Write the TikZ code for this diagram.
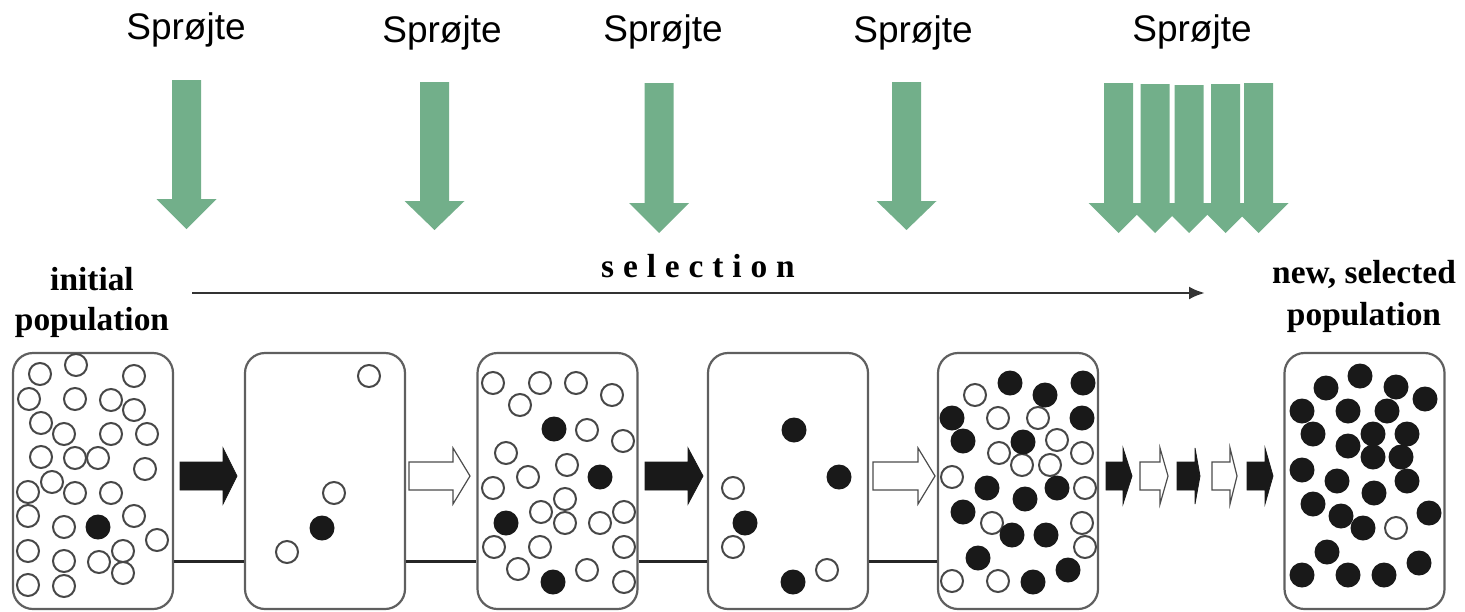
\documentclass[tikz,border=0pt]{standalone}
\usepackage{fontspec}
\setmainfont{Liberation Serif}
\newfontfamily\arialfont{Liberation Sans}
\usetikzlibrary{arrows.meta}
\definecolor{spray}{RGB}{114,175,138}
\definecolor{boxgray}{RGB}{95,95,95}
\definecolor{inkblack}{RGB}{25,25,25}
\newcommand{\lsp}{\kern4.45pt}
\newcommand{\grnarrow}[4]{%
  \fill[spray] ({#1-14.5},#2) -- ({#1+14.5},#2) -- ({#1+14.5},#3) -- ({#1+30},#3)
     -- (#1,#4) -- ({#1-30},#3) -- ({#1-14.5},#3) -- cycle;}
\newcommand{\blkarrow}[4]{%
  \draw[#4] (#1,462) -- (#2,462) -- (#2,448) -- (#3,476) -- (#2,504) -- (#2,490) -- (#1,490) -- cycle;}
\begin{document}
\begin{tikzpicture}[x=0.5pt,y=-0.5pt,
  popbox/.style={draw=boxgray,line width=1.1pt,rounded corners=10pt,
     minimum width=80pt,minimum height=128pt,inner sep=0pt},
  oc/.style={draw=black!72,line width=1pt},
  fc/.style={fill=inkblack},
  link/.style={draw=black!85,line width=1.5pt},
  sprtext/.style={font=\arialfont\fontsize{18.5pt}{20pt}\selectfont,anchor=base,inner sep=0pt},
  poplabel/.style={font=\fontsize{16.7pt}{20pt}\selectfont\bfseries,align=center,anchor=base,inner sep=0pt},
  darrow/.style={fill=inkblack,draw=inkblack,line width=0.4pt},
  warrow/.style={fill=white,draw=black!70,line width=0.6pt}]
\useasboundingbox (0,0) rectangle (1465,611);

% spray labels
\node[sprtext] (s1) at (186,39) {Sprøjte};
\node[sprtext] (s2) at (442,42) {Sprøjte};
\node[sprtext] (s3) at (663,41) {Sprøjte};
\node[sprtext] (s4) at (913,42) {Sprøjte};
\node[sprtext] (s5) at (1192,41) {Sprøjte};

% green spray arrows
\grnarrow{186.5}{80}{199}{229}
\grnarrow{434.5}{82}{201}{230}
\grnarrow{659}{83}{203}{233}
\grnarrow{906.5}{82}{201}{230}
\grnarrow{1118.5}{83}{203}{233}
\grnarrow{1155}{84}{203}{233}
\grnarrow{1189}{85}{203}{233}
\grnarrow{1225.5}{84}{203}{233}
\grnarrow{1258.5}{83}{203}{233}

% labels
\node[poplabel] (lab1) at (92,330) {initial\\population};
\node[poplabel] (lab2) at (1364,325) {new, selected\\[1pt]population};
\node[font=\fontsize{16.7pt}{20pt}\selectfont\bfseries,anchor=base,inner sep=0pt] (sel) at (698,277)
  {s\lsp e\lsp l\lsp e\lsp c\lsp t\lsp i\lsp o\lsp n};
\coordinate (sa) at (192,293);
\coordinate (sb) at (1205,293);
\draw[draw=black!80,line width=1.4pt,-{Latex[length=8pt,width=6.5pt]}] (sa) -- (sb);

% boxes
\node[popbox] (b1) at (93,481) {};
\node[popbox] (b2) at (325,481) {};
\node[popbox] (b3) at (557.5,481) {};
\node[popbox] (b4) at (788,481) {};
\node[popbox] (b5) at (1018,481) {};
\node[popbox] (b6) at (1364.5,481) {};

% connecting lines
\draw[link] ([yshift=-40pt]b1.east) -- ([yshift=-40pt]b2.west);
\draw[link] ([yshift=-40pt]b2.east) -- ([yshift=-40pt]b3.west);
\draw[link] ([yshift=-40pt]b3.east) -- ([yshift=-40pt]b4.west);
\draw[link] ([yshift=-40pt]b4.east) -- ([yshift=-40pt]b5.west);

% block arrows
\blkarrow{180}{223}{237}{darrow}
\blkarrow{409}{453}{470}{warrow}
\blkarrow{645}{688}{703}{darrow}
\blkarrow{873}{918}{935}{warrow}
\blkarrow{1106}{1123}{1132}{darrow}
\blkarrow{1140}{1160}{1168}{warrow}
\blkarrow{1177}{1195}{1200}{darrow}
\blkarrow{1212}{1230}{1237}{warrow}
\blkarrow{1247}{1265}{1273}{darrow}

% box 1
\foreach \x/\y in {76/365,40/374,134/376,29/399,75/399,111/400,134/410,41/423,64/434,111/434,147/434,
  41/457,75/458,98/458,145/469,52/482,28/492,75/493,111/493,28/516,134/516,64/527,157/540,
  28/551,64/561,99/562,123/551,123/573,28/585,64/586}
  \draw[oc] (\x,\y) circle[radius=5.5pt];
\fill[fc] (98,527) circle[radius=6.25pt];

% box 2
\foreach \x/\y in {369/376,334/493,287/552}
  \draw[oc] (\x,\y) circle[radius=5.5pt];
\fill[fc] (322,528) circle[radius=6.25pt];

% box 3
\foreach \x/\y in {493/383,540/383,576/383,612/395,520/405,587/430,623/441,506/453,567/465,528/477,
  493/488,565/499,541/512,624/512,565/523,600/523,494/547,540/547,624/547,518/569,587/570,624/582}
  \draw[oc] (\x,\y) circle[radius=5.5pt];
\foreach \x/\y in {554/429,600/477,506/523,553/582}
  \fill[fc] (\x,\y) circle[radius=6.25pt];

% box 4
\foreach \x/\y in {733/488,733/547,827/570}
  \draw[oc] (\x,\y) circle[radius=5.5pt];
\foreach \x/\y in {794/430,839/477,745/523,793/582}
  \fill[fc] (\x,\y) circle[radius=6.25pt];

% box 5
\foreach \x/\y in {975/395,998/418,1038/418,1057/440,999/453,1082/453,1022/465,1050/465,952/477,
  1085/488,992/523,1082/523,1085/547,952/581,998/581}
  \draw[oc] (\x,\y) circle[radius=5.5pt];
\foreach \x/\y in {1010/383,1083/383,1045/395,952/418,1082/418,963/441,1023/442,987/488,1057/488,
  1025/499,963/512,1012/535,1046/535,978/558,1068/570,1033/582}
  \fill[fc] (\x,\y) circle[radius=6.25pt];

% box 6
\foreach \x/\y in {1360/376,1326/388,1396/387,1425/399,1302/411,1348/411,1387/411,1313/434,1373/434,
  1407/434,1348/446,1373/457,1401/457,1302/470,1337/481,1407/481,1374/493,1313/504,1341/516,
  1429/513,1363/528,1327/552,1419/563,1302/575,1348/575,1384/575}
  \fill[fc] (\x,\y) circle[radius=6.25pt];
\draw[oc] (1396,528) circle[radius=5.5pt];
\end{tikzpicture}
\end{document}
